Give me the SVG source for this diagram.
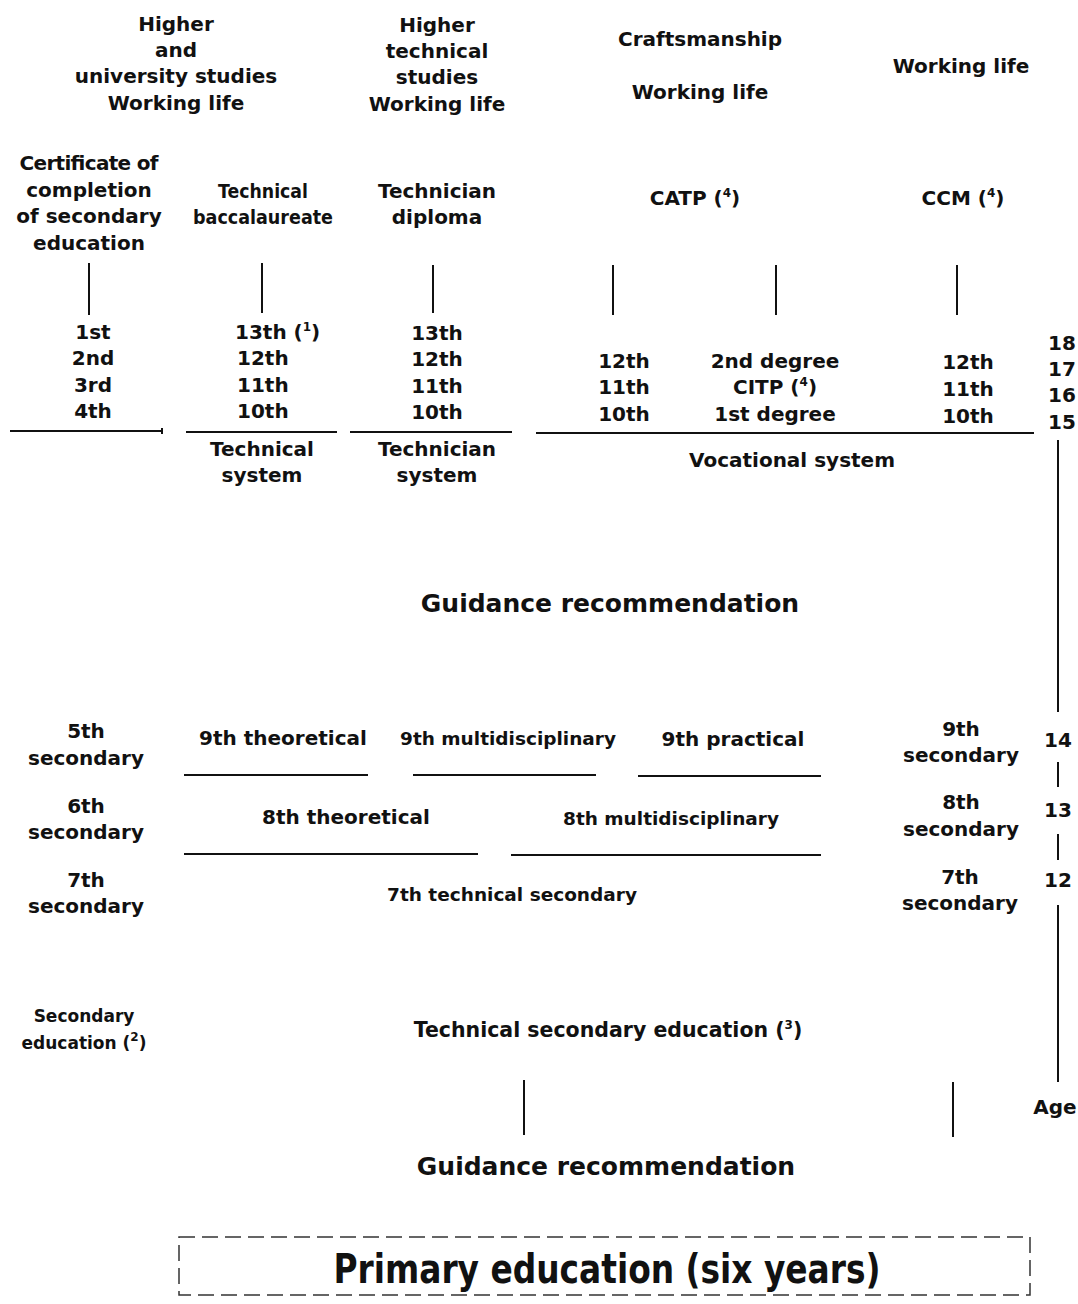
<svg xmlns="http://www.w3.org/2000/svg" width="1078" height="1304" viewBox="0 0 1078 1304">
<style>
text{font-family:"DejaVu Sans","Noto Sans",sans-serif;font-weight:bold;fill:#111;text-anchor:middle;font-size:20px}
text.g{font-size:25px}
text.s{font-size:17px}
text.m{font-size:18.5px}
text.l{font-size:20.5px}
text.st{text-anchor:start}
text.p{font-family:"DejaVu Sans Condensed","DejaVu Sans",sans-serif;font-size:41px}
.sup{font-size:12px}
line{stroke:#111;stroke-width:2}
</style>
<rect width="1078" height="1304" fill="#fff"/>
<g id="outcomes">
<g id="out-higher-univ"><text x="176" y="31">Higher</text><text x="176" y="57">and</text><text x="176" y="83">university studies</text><text x="176" y="110">Working life</text></g>
<g id="out-higher-tech"><text x="437" y="32">Higher</text><text x="437" y="58">technical</text><text x="437" y="84">studies</text><text x="437" y="111">Working life</text></g>
<g id="out-craft"><text x="700" y="46">Craftsmanship</text><text x="700" y="99">Working life</text></g>
<g id="out-work"><text x="961" y="73">Working life</text></g>
</g>
<g id="qualifications">
<g id="q-cert"><text x="89" y="170" textLength="139">Certificate of</text><text x="89" y="197">completion</text><text x="89" y="223">of secondary</text><text x="89" y="250">education</text></g>
<g id="q-bac"><text x="263" y="198" textLength="90" lengthAdjust="spacingAndGlyphs">Technical</text><text x="263" y="224" textLength="140" lengthAdjust="spacingAndGlyphs">baccalaureate</text></g>
<g id="q-dip"><text x="437" y="198">Technician</text><text x="437" y="224">diploma</text></g>
<g id="q-catp"><text x="695" y="205">CATP (<tspan class="sup" dy="-8">4</tspan><tspan dy="8">)</tspan></text></g>
<g id="q-ccm"><text x="963" y="205">CCM (<tspan class="sup" dy="-8">4</tspan><tspan dy="8">)</tspan></text></g>
</g>
<g id="upper-grades">
<g id="g-general"><text x="93" y="339">1st</text><text x="93" y="365">2nd</text><text x="93" y="392">3rd</text><text x="93" y="418">4th</text></g>
<g id="g-technical"><text class="st" x="235" y="339">13th (<tspan class="sup" dy="-8">1</tspan><tspan dy="8">)</tspan></text><text class="st" x="237" y="365">12th</text><text class="st" x="237" y="392">11th</text><text class="st" x="237" y="418">10th</text></g>
<g id="g-technician"><text x="437" y="340">13th</text><text x="437" y="366">12th</text><text x="437" y="393">11th</text><text x="437" y="419">10th</text></g>
<g id="g-voc1"><text x="624" y="368">12th</text><text x="624" y="394">11th</text><text x="624" y="421">10th</text></g>
<g id="g-voc2"><text x="775" y="368">2nd degree</text><text x="775" y="394">CITP (<tspan class="sup" dy="-8">4</tspan><tspan dy="8">)</tspan></text><text x="775" y="421">1st degree</text></g>
<g id="g-voc3"><text x="968" y="369">12th</text><text x="968" y="396">11th</text><text x="968" y="423">10th</text></g>
</g>
<g id="systems">
<g id="sys-technical"><text x="262" y="456">Technical</text><text x="262" y="482">system</text></g>
<g id="sys-technician"><text x="437" y="456">Technician</text><text x="437" y="482">system</text></g>
<g id="sys-vocational"><text x="792" y="467">Vocational system</text></g>
</g>
<g id="guidance-1"><text class="g" x="610" y="612">Guidance recommendation</text></g>
<g id="lower-grades">
<g id="l-5"><text x="86" y="738">5th</text><text x="86" y="765">secondary</text></g>
<g id="l-6"><text x="86" y="813">6th</text><text x="86" y="839">secondary</text></g>
<g id="l-7"><text x="86" y="887">7th</text><text x="86" y="913">secondary</text></g>
<g id="l-9th-theo"><text x="283" y="745">9th theoretical</text></g>
<g id="l-9th-multi"><text class="m" x="508" y="745">9th multidisciplinary</text></g>
<g id="l-9th-prac"><text x="733" y="746">9th practical</text></g>
<g id="l-8th-theo"><text x="346" y="824">8th theoretical</text></g>
<g id="l-8th-multi"><text class="m" x="671" y="825">8th multidisciplinary</text></g>
<g id="l-7th-tech"><text class="m" x="512" y="901">7th technical secondary</text></g>
<g id="r-9"><text x="961" y="736">9th</text><text x="961" y="762">secondary</text></g>
<g id="r-8"><text x="961" y="809">8th</text><text x="961" y="836">secondary</text></g>
<g id="r-7"><text x="960" y="884">7th</text><text x="960" y="910">secondary</text></g>
</g>
<g id="secondary">
<g id="sec-edu"><text class="s" x="84" y="1022">Secondary</text><text class="s" x="84" y="1049">education (<tspan class="sup" dy="-8">2</tspan><tspan dy="8">)</tspan></text></g>
<g id="tech-sec-edu"><text class="l" x="608" y="1037">Technical secondary education (<tspan class="sup" dy="-8">3</tspan><tspan dy="8">)</tspan></text></g>
</g>
<g id="guidance-2"><text class="g" x="606" y="1175">Guidance recommendation</text></g>
<g id="ages">
<text x="1062" y="350">18</text><text x="1062" y="376">17</text><text x="1062" y="402">16</text><text x="1062" y="429">15</text>
<text x="1058" y="747">14</text><text x="1058" y="817">13</text><text x="1058" y="887">12</text>
<text x="1055" y="1114">Age</text>
</g>
<g id="primary">
<rect x="179" y="1237" width="851" height="58" fill="none" stroke="#333" stroke-width="1.5" stroke-dasharray="16 7"/>
<text class="p" x="607" y="1283" textLength="547" lengthAdjust="spacingAndGlyphs">Primary education (six years)</text>
</g>
<g id="connectors">
<line x1="89" y1="263" x2="89" y2="315"/>
<line x1="262" y1="263" x2="262" y2="313"/>
<line x1="433" y1="265" x2="433" y2="313"/>
<line x1="613" y1="265" x2="613" y2="315"/>
<line x1="776" y1="265" x2="776" y2="315"/>
<line x1="957" y1="265" x2="957" y2="315"/>
<line x1="10" y1="431" x2="162" y2="431"/>
<line x1="162" y1="428" x2="162" y2="434" stroke-width="1"/>
<line x1="186" y1="432" x2="337" y2="432"/>
<line x1="350" y1="432" x2="512" y2="432"/>
<line x1="536" y1="433" x2="1034" y2="433"/>
<line x1="1058" y1="440" x2="1058" y2="712"/>
<line x1="1058" y1="762" x2="1058" y2="787"/>
<line x1="1058" y1="834" x2="1058" y2="860"/>
<line x1="1058" y1="905" x2="1058" y2="1082"/>
<line x1="184" y1="775" x2="368" y2="775"/>
<line x1="413" y1="775" x2="596" y2="775"/>
<line x1="638" y1="776" x2="821" y2="776"/>
<line x1="184" y1="854" x2="478" y2="854"/>
<line x1="511" y1="855" x2="821" y2="855"/>
<line x1="524" y1="1080" x2="524" y2="1135"/>
<line x1="953" y1="1082" x2="953" y2="1137"/>
</g>
</svg>
